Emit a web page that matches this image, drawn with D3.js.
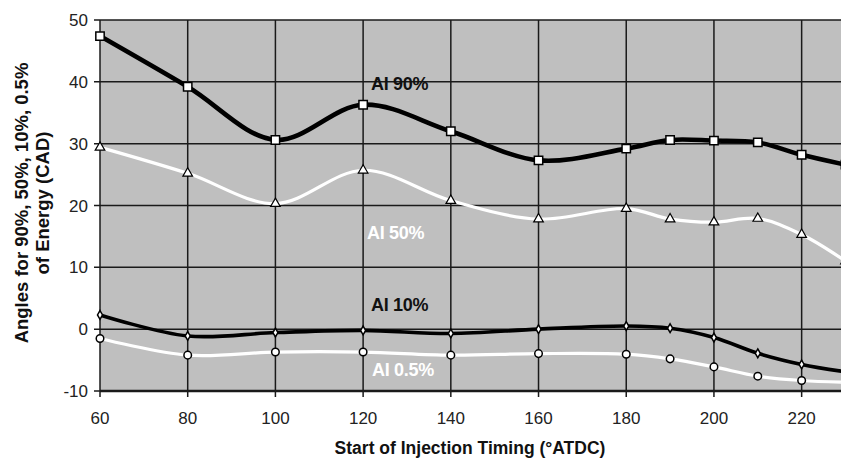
<!DOCTYPE html>
<html>
<head>
<meta charset="utf-8">
<script src="https://cdn.jsdelivr.net/npm/d3@7"></script>
<style>
  html, body { margin: 0; padding: 0; background: #fff; }
  svg { display: block; font-family: "Liberation Sans", Arial, sans-serif; }
</style>
</head>
<body>
<div id="chart"></div>
<script>
  const timings = [60, 80, 100, 120, 140, 160, 180, 190, 200, 210, 220, 230];
  const ai90 = [47.4, 39.2, 30.6, 36.3, 32.0, 27.3, 29.2, 30.6, 30.5, 30.2, 28.2, 26.6];
  const ai50 = [29.4, 25.2, 20.3, 25.7, 20.8, 17.8, 19.5, 17.8, 17.3, 17.9, 15.3, 11.0];
  const ai10 = [2.3, -1.1, -0.55, -0.2, -0.7, 0.0, 0.5, 0.15, -1.35, -3.9, -5.7, -6.9];
  const ai05 = [-1.5, -4.2, -3.7, -3.7, -4.2, -3.95, -4.05, -4.8, -6.1, -7.6, -8.3, -8.6];
  const xTicks = [60, 80, 100, 120, 140, 160, 180, 200, 220];
  const yTicks = [-10, 0, 10, 20, 30, 40, 50];

  const series = [
    { name: 'AI 90%', values: ai90, line: '#000', width: 4.6, marker: 'square', label: [371, 90] },
    { name: 'AI 50%', values: ai50, line: '#fff', width: 3.2, marker: 'triangle', label: [367, 239] },
    { name: 'AI 10%', values: ai10, line: '#000', width: 3.6, marker: 'diamond', label: [371, 311] },
    { name: 'AI 0.5%', values: ai05, line: '#fff', width: 3.2, marker: 'circle', label: [372, 376] }
  ];

  const W = 841, H = 459;
  const svg = d3.select('#chart').append('svg')
    .attr('width', W)
    .attr('height', H);

  const x = d3.scaleLinear().domain([60, 230]).range([100, 845.5]);
  const y = d3.scaleLinear().domain([-10, 50]).range([391, 20]);

  // plot background
  svg.append('rect')
    .attr('x', x(60)).attr('y', y(50))
    .attr('width', W - x(60)).attr('height', y(-10) - y(50))
    .attr('fill', '#bfbfbf');

  // grid
  const grid = svg.append('g').attr('stroke', '#1a1a1a').attr('stroke-width', 1.5);
  grid.selectAll('line.h').data(yTicks).join('line')
    .attr('class', 'h')
    .attr('x1', x(60) - 6).attr('x2', W)
    .attr('y1', d => y(d)).attr('y2', d => y(d));
  grid.selectAll('line.v').data(xTicks).join('line')
    .attr('class', 'v')
    .attr('x1', d => x(d)).attr('x2', d => x(d))
    .attr('y1', y(50)).attr('y2', y(-10) + 6);
  grid.append('line')
    .attr('x1', x(60)).attr('x2', W)
    .attr('y1', y(-10)).attr('y2', y(-10))
    .attr('stroke-width', 2.4);

  // tick labels
  svg.append('g').selectAll('text').data(xTicks).join('text')
    .attr('x', d => x(d)).attr('y', 424)
    .attr('text-anchor', 'middle')
    .attr('font-size', 17)
    .attr('fill', '#222')
    .text(d => d);
  svg.append('g').selectAll('text').data(yTicks).join('text')
    .attr('x', 88).attr('y', d => y(d))
    .attr('dy', '0.36em')
    .attr('text-anchor', 'end')
    .attr('font-size', 17)
    .attr('fill', '#222')
    .text(d => d);

  // axis titles
  svg.append('text')
    .attr('x', 470).attr('y', 454)
    .attr('text-anchor', 'middle')
    .attr('font-size', 17.5)
    .attr('font-weight', 'bold')
    .attr('fill', '#111')
    .text('Start of Injection Timing (°ATDC)');

  const yt = svg.append('text')
    .attr('transform', 'translate(28,203) rotate(-90)')
    .attr('text-anchor', 'middle')
    .attr('font-size', 18.5)
    .attr('font-weight', 'bold')
    .attr('fill', '#111');
  yt.append('tspan').attr('x', 0).attr('y', 0).text('Angles for 90%, 50%, 10%, 0.5%');
  yt.append('tspan').attr('x', 0).attr('y', 21).text('of Energy (CAD)');

  const line = d3.line()
    .x(d => x(d[0]))
    .y(d => y(d[1]))
    .curve(d3.curveCatmullRom.alpha(0.5));

  const markerPath = {
    square: d3.symbol(d3.symbolSquare, 70)(),
    triangle: d3.symbol(d3.symbolTriangle, 40)(),
    diamond: d3.symbol(d3.symbolDiamond, 22)(),
    circle: d3.symbol(d3.symbolCircle, 45)()
  };

  for (const s of series) {
    const pts = timings.map((t, i) => [t, s.values[i]]);
    svg.append('path')
      .attr('d', line(pts))
      .attr('fill', 'none')
      .attr('stroke', s.line)
      .attr('stroke-width', s.width);

    svg.append('g').selectAll('path').data(pts).join('path')
      .attr('transform', d => `translate(${x(d[0])},${y(d[1])})`)
      .attr('d', markerPath[s.marker])
      .attr('fill', '#fff')
      .attr('stroke', '#000')
      .attr('stroke-width', s.marker === 'triangle' ? 1.2 : 1.5);

    svg.append('text')
      .attr('x', s.label[0]).attr('y', s.label[1])
      .attr('font-size', 18)
      .attr('font-weight', 'bold')
      .attr('letter-spacing', -0.3)
      .attr('fill', s.line === '#000' ? '#111' : '#fff')
      .text(s.name);
  }
</script>
</body>
</html>
